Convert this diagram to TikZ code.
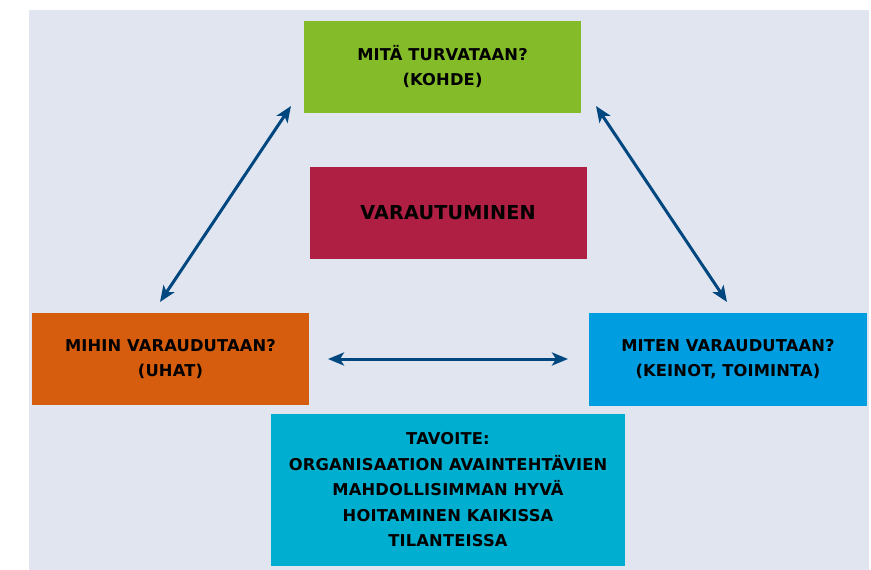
\documentclass[tikz,border=0pt]{standalone}
\usepackage{fontspec}
\setmainfont{DejaVu Sans}[LetterSpace=1]
\usetikzlibrary{arrows.meta}

\definecolor{taustasin}{HTML}{E1E5F0}
\definecolor{kohdevihr}{HTML}{84BB29}
\definecolor{varpuna}{HTML}{AF1F43}
\definecolor{uhkaoranssi}{HTML}{D65D0E}
\definecolor{keinosin}{HTML}{009EE0}
\definecolor{tavoiteturk}{HTML}{00AFCF}
\definecolor{nuolisin}{HTML}{00467F}

\begin{document}
\begin{tikzpicture}[x=1pt,y=-1pt,
  laatikko/.style={inner sep=0pt, align=center, text=black,
    minimum width=277pt, minimum height=92pt,
    font=\fontsize{16.3}{25}\selectfont\bfseries},
  nuoli/.style={{Stealth[length=16pt,width=13pt,inset=4pt]}-{Stealth[length=16pt,width=13pt,inset=4pt]},
    draw=nuolisin, line width=3pt}]
   \useasboundingbox (0,0) rectangle (871,570);
   \fill[taustasin] (29,10) rectangle (869,570);

   \node[laatikko, fill=kohdevihr] (kohde) at (442.5,67) {MITÄ TURVATAAN?\\(KOHDE)};
   \node[laatikko, fill=varpuna, font=\fontsize{19.2}{25}\selectfont\bfseries] (varautuminen) at (448,213) {VARAUTUMINEN};
   \node[laatikko, fill=uhkaoranssi] (uhat) at (170.5,359) {MIHIN VARAUDUTAAN?\\(UHAT)};
   \node[laatikko, fill=keinosin, minimum width=278pt, minimum height=93pt] (keinot) at (728,359.5) {MITEN VARAUDUTAAN?\\(KEINOT, TOIMINTA)};
   \node[laatikko, fill=tavoiteturk, minimum width=354pt, minimum height=152pt, font=\fontsize{16.3}{25.5}\selectfont\bfseries] (tavoite) at (448,490) {TAVOITE:\\ORGANISAATION AVAINTEHTÄVIEN\\MAHDOLLISIMMAN HYVÄ\\HOITAMINEN KAIKISSA\\TILANTEISSA};

   \coordinate (uhat-yla) at (160,302);
   \coordinate (kohde-vas) at (291,106);
   \coordinate (kohde-oik) at (596,106);
   \coordinate (keinot-yla) at (727,302);
   \coordinate (uhat-oik) at (328,359);
   \coordinate (keinot-vas) at (568,359);

   \draw[nuoli] (uhat-yla) -- (kohde-vas);
   \draw[nuoli] (kohde-oik) -- (keinot-yla);
   \draw[nuoli] (uhat-oik) -- (keinot-vas);
\end{tikzpicture}
\end{document}
